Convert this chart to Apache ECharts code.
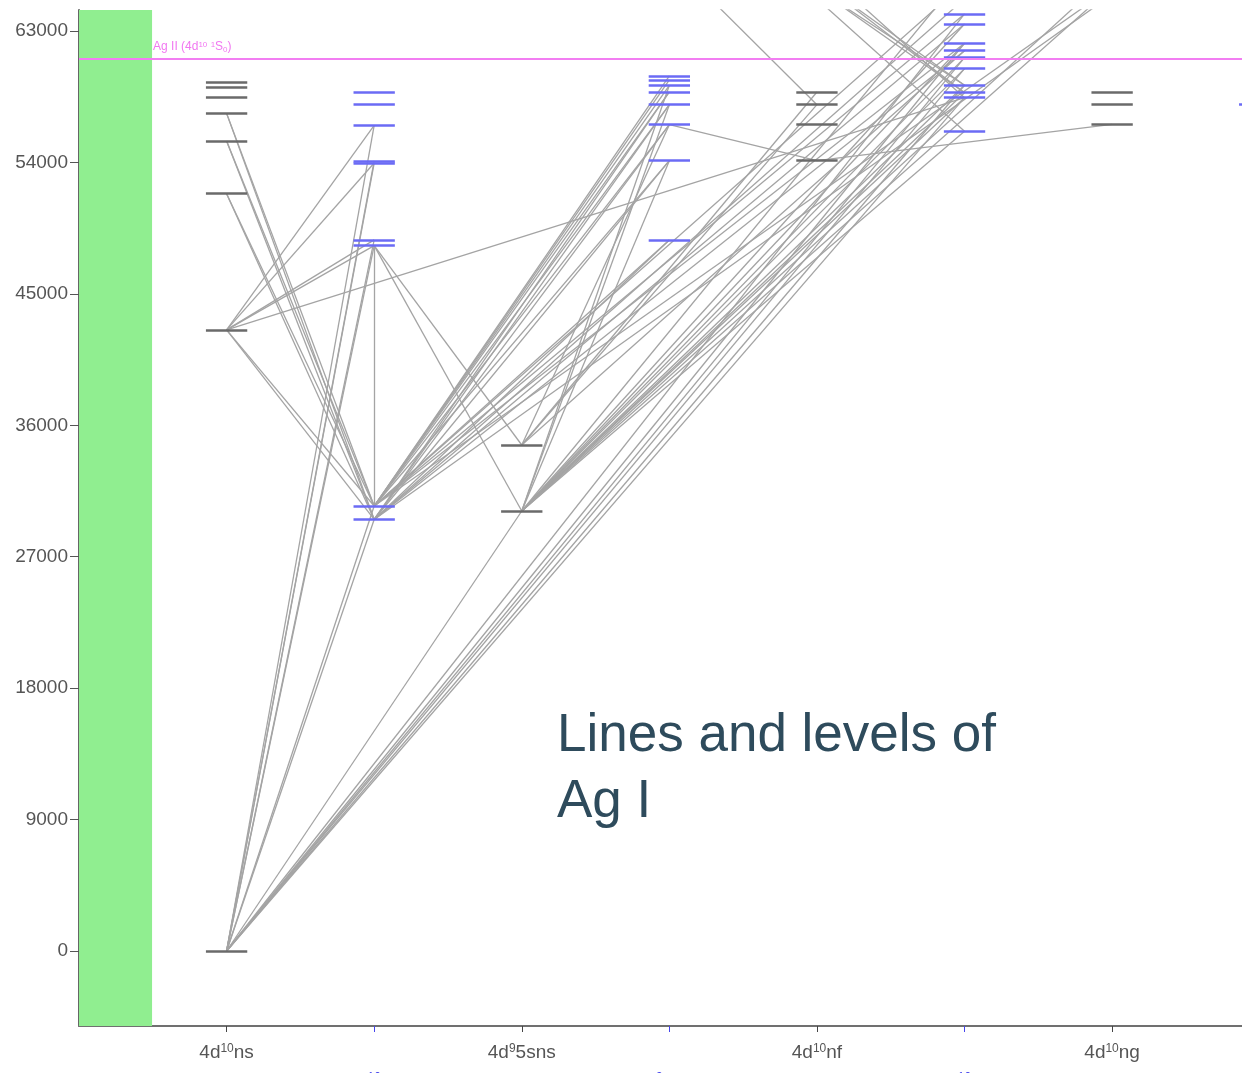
<!DOCTYPE html>
<html>
<head>
<meta charset="utf-8">
<script src="https://cdn.jsdelivr.net/npm/echarts@6/dist/echarts.min.js"></script>
<style>
  html, body { margin: 0; padding: 0; background: #fff; }
  #chart { width: 1242px; height: 1073px; }
</style>
</head>
<body>
<div id="chart"></div>
<script>
// energy levels (cm-1) per column; some sit above the visible top
const colNs = [0, 42530, 51860, 55470, 57360, 58440, 59120, 59490];
const colNp = [29550, 30470, 48300, 48700, 53960, 54100, 56540, 57950, 58800];
const col5s2 = [30130, 34650];
const colC4 = [48690, 54120, 56585, 57955, 58825, 59284, 59646, 59920, 68000];
const colNf = [54119, 56585, 57955, 58825, 65200, 65900, 66500, 67500];
const colC6 = [56134, 58434, 58777, 59284, 60421, 61174, 61653, 62160, 63481, 64166, 65200, 66300, 67000];
const colNg = [56610, 57955, 58800, 65500, 66000, 67000];
const colC8 = [57955];

const ionLimit = 61106;

const xTicksBlack = [1, 3, 5, 7];
const xTicksBlue = [2, 4, 6, 8];
const xLabels = { 1: '4d{s|10}ns', 3: '4d{s|9}5sns', 5: '4d{s|10}nf', 7: '4d{s|10}ng' };
const xLabelsBlue = { 2: '4d{s|10}np', 4: '4d{s|9}5snp', 6: '4d{s|10}nd', 8: '4d{s|10}nh' };
const yTicks = [0, 9000, 18000, 27000, 36000, 45000, 54000, 63000];

// transitions: [column, energy, column, energy]
const transitions = [
  [1, 0, 2, 29550], [1, 0, 2, 30470], [1, 0, 2, 48300], [1, 0, 2, 48700],
  [1, 0, 2, 53960], [1, 0, 2, 54100], [1, 0, 2, 56540], [1, 0, 3, 30130],
  [1, 0, 6, 58434], [1, 0, 6, 59284], [1, 0, 6, 60421], [1, 0, 6, 61174],
  [1, 0, 6, 62160], [1, 0, 6, 64166],
  [1, 42530, 2, 29550], [1, 42530, 2, 30470], [1, 42530, 2, 48300], [1, 42530, 2, 48700],
  [1, 42530, 2, 53960], [1, 42530, 2, 56540], [1, 42530, 6, 58434],
  [1, 51860, 2, 29550], [1, 51860, 2, 30470], [1, 55470, 2, 29550], [1, 55470, 2, 30470],
  [1, 57360, 2, 29550], [1, 57360, 2, 30470],
  [2, 48300, 2, 30470], [2, 48300, 3, 30130], [2, 48300, 3, 34650],
  [2, 30470, 4, 48690], [2, 30470, 4, 54120], [2, 30470, 4, 56585], [2, 30470, 4, 57955],
  [2, 30470, 4, 58825], [2, 30470, 4, 59284], [2, 30470, 4, 59646], [2, 30470, 4, 59920],
  [2, 29550, 4, 48690], [2, 29550, 4, 54120], [2, 29550, 4, 56585], [2, 29550, 4, 57955],
  [2, 29550, 4, 58825],
  [2, 30470, 6, 62160], [2, 30470, 6, 64166], [2, 29550, 6, 61653], [2, 29550, 6, 63481],
  [2, 30470, 6, 66300], [2, 29550, 6, 65200], [2, 30470, 7, 66000], [2, 29550, 7, 65500],
  [3, 30130, 4, 54120], [3, 30130, 4, 57955], [3, 30130, 4, 59284],
  [3, 30130, 6, 56134], [3, 30130, 6, 58434], [3, 30130, 6, 58777], [3, 30130, 6, 59284],
  [3, 30130, 6, 60421], [3, 30130, 6, 61174], [3, 30130, 6, 62160], [3, 30130, 6, 63481],
  [3, 30130, 6, 67000], [3, 30130, 7, 66000], [3, 30130, 7, 67000],
  [3, 34650, 5, 57955], [3, 34650, 5, 58825], [3, 34650, 4, 56585], [3, 34650, 6, 61653],
  [4, 56585, 5, 54119], [5, 54119, 7, 56610], [4, 68000, 5, 57955],
  [5, 65200, 6, 56134], [5, 65900, 6, 59284], [5, 66500, 6, 58777], [5, 67500, 6, 58434],
  [5, 66500, 6, 59284], [5, 65900, 6, 58777]
];

const halfW = 0.14;
function levelSegs(col, list) {
  return list.map(e => ({ coords: [[col - halfW, e], [col + halfW, e]] }));
}
const blackLevels = [].concat(levelSegs(1, colNs), levelSegs(3, col5s2), levelSegs(5, colNf), levelSegs(7, colNg));
const blueLevels = [].concat(levelSegs(2, colNp), levelSegs(4, colC4), levelSegs(6, colC6), levelSegs(8, colC8));
const lineData = transitions.map(t => ({ coords: [[t[0], t[1]], [t[2], t[3]]] }));

const font = 'Liberation Sans, Arial, sans-serif';
const xMin = 0, xMax = 7.88, yMin = -5136, yMax = 64438;

const chart = echarts.init(document.getElementById('chart'));
chart.setOption({
  animation: false,
  backgroundColor: '#fff',
  grid: { left: 79, right: 0, top: 10, bottom: 47, outerBoundsMode: 'none', containLabel: false },
  xAxis: [{
    type: 'value', min: xMin, max: xMax, position: 'bottom',
    splitLine: { show: false },
    axisLine: { onZero: false, lineStyle: { color: '#707070', width: 2 } },
    axisTick: { customValues: xTicksBlack, length: 6, lineStyle: { color: '#444' } },
    axisLabel: {
      customValues: xTicksBlack, margin: 17, color: '#555', fontFamily: font, fontSize: 19,
      formatter: v => xLabels[v] || '',
      rich: { s: { fontSize: 12, fontFamily: font, color: '#555', verticalAlign: 'top', padding: [0, 0, 8, 0] } }
    }
  }, {
    type: 'value', min: xMin, max: xMax, position: 'bottom',
    splitLine: { show: false },
    axisLine: { show: false, onZero: false },
    axisTick: { customValues: xTicksBlue, length: 6, lineStyle: { color: '#4444ee' } },
    axisLabel: {
      customValues: xTicksBlue, margin: 46, color: '#4444ee', fontFamily: font, fontSize: 19,
      formatter: v => xLabelsBlue[v] || '',
      rich: { s: { fontSize: 12, fontFamily: font, color: '#4444ee', verticalAlign: 'top', padding: [0, 0, 8, 0] } }
    }
  }],
  yAxis: {
    type: 'value', min: yMin, max: yMax,
    splitLine: { show: false },
    axisLine: { show: true, onZero: false, lineStyle: { color: '#666', width: 2 } },
    axisTick: { show: true, customValues: yTicks, length: 9, lineStyle: { color: '#555' } },
    axisLabel: { customValues: yTicks, margin: 11, color: '#555', fontFamily: font, fontSize: 19, formatter: v => String(v) }
  },
  series: [
    {
      type: 'lines', coordinateSystem: 'cartesian2d', clip: true, silent: true,
      lineStyle: { color: '#a4a4a4', width: 1.3, opacity: 1 },
      data: lineData,
      markArea: {
        silent: true,
        itemStyle: { color: '#90ee90', opacity: 1 },
        data: [[{ coord: [xMin, yMin] }, { coord: [0.495, yMax] }]]
      },
      markLine: {
        silent: true, symbol: 'none',
        lineStyle: { color: '#f27ef2', width: 2, type: 'solid' },
        label: { show: false },
        data: [{ yAxis: ionLimit }]
      },
      z: 2
    },
    {
      type: 'lines', coordinateSystem: 'cartesian2d', clip: true, silent: true,
      lineStyle: { color: '#6a6a6a', width: 2.5, opacity: 1 },
      data: blackLevels, z: 3
    },
    {
      type: 'lines', coordinateSystem: 'cartesian2d', clip: true, silent: true,
      lineStyle: { color: '#6b6bf5', width: 2.5, opacity: 1 },
      data: blueLevels, z: 3
    },
    {
      type: 'scatter', symbolSize: 0, silent: true, z: 4,
      data: [[0.495, ionLimit]],
      label: {
        show: true, position: [1, -18], color: '#ee55ee', fontFamily: font, fontSize: 12,
        formatter: 'Ag II (4d{s|10} {s|1}S{b|0})',
        rich: {
          s: { fontSize: 8, color: '#ee55ee', verticalAlign: 'top', padding: [0, 0, 5, 0] },
          b: { fontSize: 8, color: '#ee55ee', padding: [5, 0, 0, 0] }
        }
      }
    }
  ],
  graphic: [{
    type: 'text', left: 557, top: 703, silent: true,
    style: {
      text: 'Lines and levels of\nAg I', fill: '#2e4b5c',
      font: '53px ' + font, lineHeight: 66
    }
  }]
});
</script>
</body>
</html>
